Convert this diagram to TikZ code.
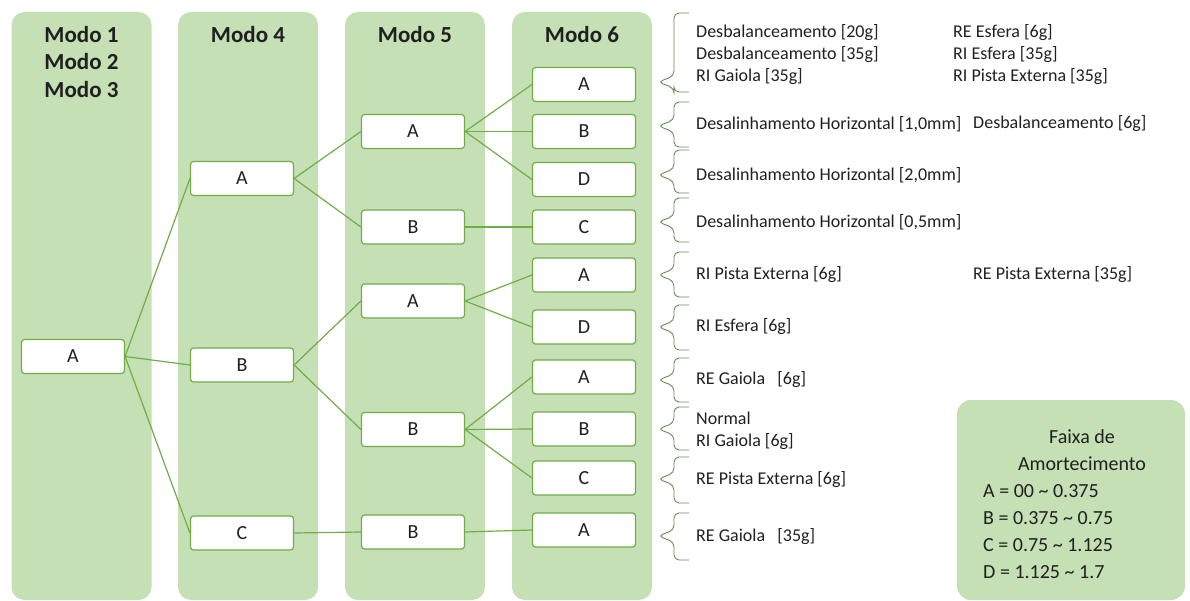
\documentclass[tikz,border=0pt]{standalone}
\usepackage{fontspec}
\setmainfont{Carlito}
\definecolor{colgreen}{RGB}{197, 224, 180}
\definecolor{edgegreen}{RGB}{112, 173, 71}
\definecolor{bracegreen}{RGB}{104, 140, 84}
\definecolor{inkgray}{RGB}{32, 32, 32}
\usepackage{tikz}
\usetikzlibrary{positioning, calc}
\tikzset{
    colbox/.style={rectangle, fill=colgreen, rounded corners=13pt, minimum width=140pt, minimum height=588pt, inner sep=0pt},
    header/.style={anchor=north, inner sep=0pt, align=center, text=inkgray, font=\fontsize{23}{27.5}\selectfont\bfseries},
    modebox/.style={draw=edgegreen, fill=white, line width=1.2pt, rounded corners=3pt, minimum width=103pt, minimum height=34pt, inner sep=0pt, text=inkgray, font=\fontsize{20}{24}\selectfont},
    branch/.style={draw=edgegreen, line width=1.2pt},
    bracket/.style={draw=bracegreen, line width=0.9pt, rounded corners=5pt},
    fault/.style={anchor=west, inner sep=0pt, align=left, text=inkgray, font=\fontsize{18}{22}\selectfont},
    legendbox/.style={rectangle, fill=colgreen, rounded corners=14pt, minimum width=228pt, minimum height=200pt},
    legendtext/.style={inner sep=0pt, text=inkgray, font=\fontsize{20}{27}\selectfont},
}

\begin{document}
\begin{tikzpicture}[x=1pt, y=-1pt]
\useasboundingbox (0,0) rectangle (1190,601);

% columns
\node[colbox] (col123) at (81.5,306) {};
\node[colbox] (col4) at (248,306) {};
\node[colbox] (col5) at (415,306) {};
\node[colbox] (col6) at (582,306) {};

\node[header, below=14pt of col123.north] (h123) {Modo 1\\Modo 2\\Modo 3};
\node[header, below=14pt of col4.north] (h4) {Modo 4};
\node[header, below=14pt of col5.north] (h5) {Modo 5};
\node[header, below=14pt of col6.north] (h6) {Modo 6};

% damping classes per mode
\node[modebox] (m1a) at (73,356.5) {A};

\node[modebox] (m4a) at (242,178.5) {A};
\node[modebox] (m4b) at (242,365) {B};
\node[modebox] (m4c) at (242,533) {C};

\node[modebox] (m5a1) at (413,131.5) {A};
\node[modebox] (m5b1) at (413,227) {B};
\node[modebox] (m5a2) at (413,301) {A};
\node[modebox] (m5b2) at (413,429.5) {B};
\node[modebox] (m5b3) at (413,532) {B};

\node[modebox] (m6a1) at (584,84.5) {A};
\node[modebox] (m6b1) at (584,131.5) {B};
\node[modebox] (m6d1) at (584,179.5) {D};
\node[modebox] (m6c1) at (584,227) {C};
\node[modebox] (m6a2) at (584,275) {A};
\node[modebox] (m6d2) at (584,327) {D};
\node[modebox] (m6a3) at (584,377) {A};
\node[modebox] (m6b3) at (584,429) {B};
\node[modebox] (m6c3) at (584,478) {C};
\node[modebox] (m6a4) at (584,530) {A};

\foreach \a/\b in {m1a/m4a, m1a/m4b, m1a/m4c,
                   m4a/m5a1, m4a/m5b1, m4b/m5a2, m4b/m5b2, m4c/m5b3,
                   m5a1/m6a1, m5a1/m6b1, m5a1/m6d1, m5b1/m6c1,
                   m5a2/m6a2, m5a2/m6d2,
                   m5b2/m6a3, m5b2/m6b3, m5b2/m6c3, m5b3/m6a4}
    \draw[branch] (\a.east) -- (\b.west);

% braces: top / tip / bottom
\foreach \t/\m/\b in {13/82/92, 102/126/147, 150/175/193, 198/222/242, 252/275/297,
                      305/327/350, 358/380/402, 407/429/450, 457/479/503, 513/536/560}
    \draw[bracket] (689,\t) -- (674,\t) -- (674,{\m-6}) -- (658,\m) -- (674,{\m+6}) -- (674,\b) -- (689,\b);

% faults
\node[fault] (f1) at (696,55) {Desbalanceamento [20g]\\Desbalanceamento [35g]\\RI Gaiola [35g]};
\node[fault] (f1b) at (953,55) {RE Esfera [6g]\\RI Esfera [35g]\\RI Pista Externa [35g]};
\node[fault] (f2) at (696,124) {Desalinhamento Horizontal [1,0mm]};
\node[fault] (f2b) at (973,124) {Desbalanceamento [6g]};
\node[fault] (f3) at (696,175) {Desalinhamento Horizontal [2,0mm]};
\node[fault] (f4) at (696,222) {Desalinhamento Horizontal [0,5mm]};
\node[fault] (f5) at (696,275) {RI Pista Externa [6g]};
\node[fault] (f5b) at (973,275) {RE Pista Externa [35g]};
\node[fault] (f6) at (696,327) {RI Esfera [6g]};
\node[fault] (f7) at (696,380) {RE Gaiola\ \ \ [6g]};
\node[fault] (f8) at (696,431) {Normal\\RI Gaiola [6g]};
\node[fault] (f9) at (696,480) {RE Pista Externa [6g]};
\node[fault] (f10) at (696,537) {RE Gaiola\ \ \ [35g]};

% legend
\node[legendbox] (legend) at (1071,500) {};
\node[legendtext, align=center] (legtitle) at (1082,450) {Faixa de\\Amortecimento};
\node[legendtext, align=left, anchor=west] (legrange) at (983,532)
    {A = 00 \textasciitilde{} 0.375\\B = 0.375 \textasciitilde{} 0.75\\C = 0.75 \textasciitilde{} 1.125\\D = 1.125 \textasciitilde{} 1.7};
\end{tikzpicture}
\end{document}
